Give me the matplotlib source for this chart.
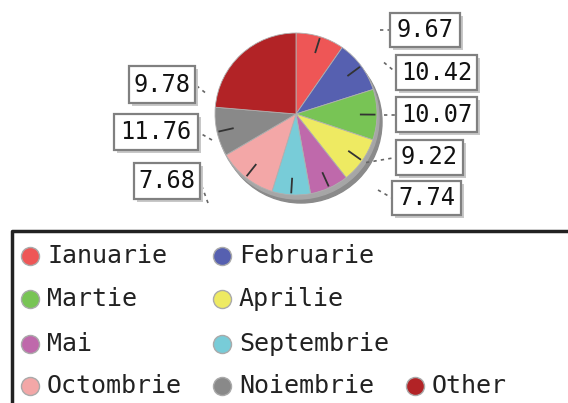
#!/usr/bin/env python3

import numpy as np
import matplotlib
matplotlib.use('Agg')
import matplotlib.pyplot as plt
from matplotlib.patches import Circle, Rectangle

# pie data (percent shares), clockwise from 12 o'clock
months = ['Ianuarie', 'Februarie', 'Martie', 'Aprilie', 'Mai',
          'Septembrie', 'Octombrie', 'Noiembrie', 'Other']
shares = [9.67, 10.42, 10.07, 9.22, 7.74, 7.68, 11.76, 9.78, 23.66]
labels = ['9.67', '10.42', '10.07', '9.22', '7.74', '7.68', '11.76', '9.78', None]
colors = ['#ee5656', '#5660b0', '#78c455', '#eeea62', '#bf69ab',
          '#78ccd8', '#f3a7a7', '#898989', '#b22326']

W, H = 568, 403
FONT = 'DejaVu Sans Mono'

# label box placement (pixel coords, top-left origin): x0, y0, x1, y1
boxes = [(390, 13, 460, 47), (396, 55, 477, 90), (396, 97, 477, 132),
         (396, 140, 463, 175), (392, 181, 461, 215), (134, 163, 200, 199),
         (114, 114, 198, 150), (129, 66, 195, 103)]
# where the dotted leader starts, relative to the box edge (dx, dy in px)
leads = [(-10, 0), (-12, -10), (-12, 0), (-30, 5), (-14, -8),
         (8, 22), (14, 8), (10, 8)]


def py(y):
    # pixel row -> data y
    return H - y


def main():
    fig = plt.figure(figsize=(W / 100, H / 100), dpi=100)
    ax = fig.add_axes([0, 0, 1, 1])

    cx, cy, r = 296, py(114), 81

    # shadow / 3d rim
    ax.add_patch(Circle((cx + 5, cy - 8), r, color='#8a8a8a', zorder=1))
    ax.add_patch(Circle((cx + 2, cy - 4), r, color='#a6a6a6', zorder=1))

    wedges, _ = ax.pie(shares, colors=colors, startangle=90, counterclock=False,
                       center=(cx, cy), radius=r, frame=True,
                       wedgeprops=dict(linewidth=0.6, edgecolor='#b0b0b0', zorder=2))
    ax.set_xlim(0, W)
    ax.set_ylim(0, H)
    ax.set_aspect('equal')
    ax.axis('off')

    # value boxes with leader lines
    bi = 0
    for w, lab in zip(wedges, labels):
        if lab is None:
            continue
        ang = np.deg2rad((w.theta1 + w.theta2) / 2)
        x0, y0, x1, y1 = boxes[bi]
        dx, dy = leads[bi]
        bi += 1
        # inner tick near the rim
        ax.plot([cx + 0.80 * r * np.cos(ang), cx + 0.97 * r * np.cos(ang)],
                [cy + 0.80 * r * np.sin(ang), cy + 0.97 * r * np.sin(ang)],
                color='#333333', lw=1.3, zorder=3)
        bx = x0 if np.cos(ang) > 0 else x1
        by = (y0 + y1) / 2
        ax.plot([bx + dx, bx], [py(by + dy), py(by)],
                color='#666666', lw=1.2, ls=(0, (2, 2.5)), zorder=3)
        # shadow then box
        ax.add_patch(Rectangle((x0 + 3, py(y1 + 3)), x1 - x0, y1 - y0,
                               facecolor='#c8c8c8', edgecolor='none', zorder=4))
        ax.add_patch(Rectangle((x0, py(y1)), x1 - x0, y1 - y0,
                               facecolor='white', edgecolor='#808080', lw=1.6, zorder=5))
        ax.text((x0 + x1) / 2, py(by), lab, family=FONT, fontsize=17, color='#111111',
                ha='center', va='center', zorder=6)

    # legend frame
    ax.plot([12, 12, W], [0, py(231), py(231)], color='#222222', lw=2.5,
            solid_capstyle='butt', zorder=3)

    colx = [30, 222, 415]
    rowy = [256, 299, 344, 386]
    slots = [(0, 0), (1, 0), (0, 1), (1, 1), (0, 2), (1, 2), (0, 3), (1, 3), (2, 3)]
    for name, col, (c, rr) in zip(months, colors, slots):
        ax.plot(colx[c], py(rowy[rr]), 'o', ms=13, mfc=col, mec='#aaaaaa',
                mew=1, zorder=4)
        ax.text(colx[c] + 17, py(rowy[rr]), name, family=FONT, fontsize=18,
                color='#222222', ha='left', va='center', zorder=4)

    fig.savefig('out.png', dpi=100)


if __name__ == '__main__':
    main()
